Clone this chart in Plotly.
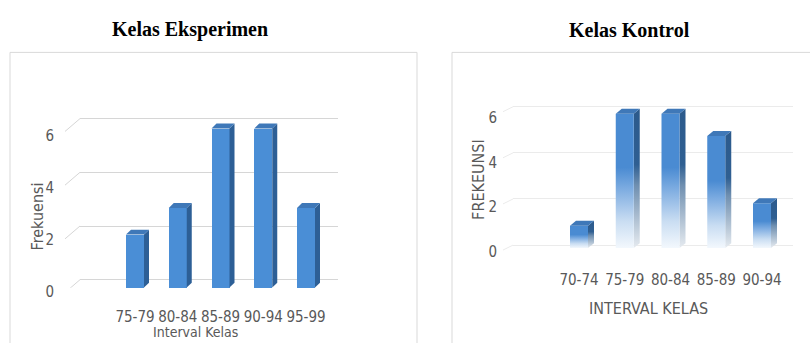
import plotly.graph_objects as go

# ---- data ----
eks_labels = ["75-79", "80-84", "85-89", "90-94", "95-99"]
eks_freq = [2, 3, 6, 6, 3]
kon_labels = ["70-74", "75-79", "80-84", "85-89", "90-94"]
kon_freq = [1, 6, 6, 5, 2]
y_ticks = [0, 2, 4, 6]

W, H = 810, 343
FAMILY = "DejaVu Sans Condensed, Open Sans, sans-serif"
TICK_FONT = dict(family=FAMILY, size=15, color="#595959")


def px_x(p):
    return p / W


def px_y(p):
    return 1 - p / H


def lin_axis(dom_px, val_a, px_a, val_b, px_b):
    """Return (r0, r1, px-per-unit) so that val_a sits at px_a and val_b at px_b."""
    d0, d1 = dom_px
    scale = (px_b - px_a) / (val_b - val_a)
    r0 = val_a + (d0 - px_a) / scale
    r1 = val_a + (d1 - px_a) / scale
    return r0, r1, scale


fig = go.Figure()

# ---------- layout geometry ----------
L_bx = (70, 340)
L_by = (300, 110)
Lx0, Lx1, Lsx = lin_axis(L_bx, 0, 135, 4, 306)
Ly0, Ly1, Lsy = lin_axis(L_by, 0, 291, 6, 130)
Lsy = -Lsy
R_bx = (515, 795)
R_by = (260, 100)
Rx0, Rx1, Rsx = lin_axis(R_bx, 0, 579, 4, 762)
Ry0, Ry1, Rsy = lin_axis(R_by, 0, 251, 6, 115)
Rsy = -Rsy

# value-label scales (front edge of the floor)
LL0, LL1, _ = lin_axis(L_by, 0, 295, 6, 137)
RL0, RL1, _ = lin_axis(R_by, 0, 255, 6, 119)


def bar_faces(values, xa, ya, sx, sy, w_px, dx_px, dy_px, gradient):
    w = w_px / sx
    dx = dx_px / sx
    dy = dy_px / sy
    for i, v in enumerate(values):
        xl, xr = i - w / 2, i + w / 2
        side = dict(x=[xr, xr + dx, xr + dx, xr, xr], y=[0, dy, v + dy, v, 0])
        front = dict(x=[xl, xr, xr, xl, xl], y=[0, 0, v, v, 0])
        top = dict(x=[xl, xr, xr + dx, xl + dx, xl], y=[v, v, v + dy, v + dy, v])
        if gradient:
            fig.add_trace(go.Scatter(
                **side, fill="toself", mode="lines", line=dict(width=0),
                fillgradient=dict(type="vertical", colorscale=[
                    [0, "#e6ebf0"], [0.45, "#6f8fb0"], [0.6, "#2f5f92"], [1, "#2c5a8c"]]),
                xaxis=xa, yaxis=ya, hoverinfo="skip", showlegend=False))
            fig.add_trace(go.Scatter(
                **front, fill="toself", mode="lines", line=dict(width=0),
                fillgradient=dict(type="vertical", colorscale=[
                    [0, "#f3f8fd"], [0.2, "#c9ddf2"], [0.45, "#7aaae0"],
                    [0.6, "#4a8bd2"], [1, "#4a8bd2"]]),
                xaxis=xa, yaxis=ya, hoverinfo="skip", showlegend=False))
        else:
            fig.add_trace(go.Scatter(
                **side, fill="toself", mode="lines", line=dict(width=0),
                fillcolor="#2d5f96", xaxis=xa, yaxis=ya,
                hoverinfo="skip", showlegend=False))
        fig.add_trace(go.Scatter(
            **top, fill="toself", mode="lines", line=dict(width=0),
            fillcolor="#3f78b8", xaxis=xa, yaxis=ya,
            hoverinfo="skip", showlegend=False))
    if not gradient:
        fig.add_trace(go.Bar(
            x=list(range(len(values))), y=values, width=w,
            marker=dict(color="#4a8ed6", line=dict(width=0)),
            xaxis=xa, yaxis=ya, hoverinfo="skip", showlegend=False))


bar_faces(eks_freq, "x3", "y3", Lsx, Lsy, 18, 5, 5, False)
bar_faces(kon_freq, "x4", "y4", Rsx, Rsy, 18, 6, 5, True)

# empty traces that carry the value-label axes
for xa, ya in (("x5", "y5"), ("x6", "y6")):
    fig.add_trace(go.Scatter(x=[None], y=[None], xaxis=xa, yaxis=ya,
                             mode="markers", hoverinfo="skip", showlegend=False))

LG_sy = 27.17
RG_sy = 23.33
hidden_x = dict(showticklabels=False, showgrid=False, zeroline=False, range=[0, 1])
fig.update_layout(
    # back-wall gridlines, drawn first so they sit behind the bars
    xaxis=dict(domain=[px_x(80), px_x(338)], **hidden_x),
    yaxis=dict(domain=[px_y(283 + 0.3 * LG_sy), px_y(120 - 0.3 * LG_sy)],
               range=[-0.3, 6.3], tickvals=y_ticks, showticklabels=False,
               showgrid=True, gridcolor="#d6d6d6", gridwidth=1, zeroline=False,
               anchor="x"),
    xaxis2=dict(domain=[px_x(513), px_x(793)], anchor="y2", **hidden_x),
    yaxis2=dict(domain=[px_y(248 + 0.3 * RG_sy), px_y(108 - 0.3 * RG_sy)],
                range=[-0.3, 6.3], tickvals=y_ticks, showticklabels=False,
                showgrid=True, gridcolor="#ebebeb", gridwidth=1, zeroline=False,
                anchor="x2"),
    # bars and category labels
    xaxis3=dict(domain=[px_x(L_bx[0]), px_x(L_bx[1])], range=[Lx0, Lx1],
                tickvals=list(range(len(eks_labels))), ticktext=eks_labels,
                tickfont=TICK_FONT, tickangle=0, showgrid=False, zeroline=False,
                ticks="", showline=False, anchor="y3", ticklabelstandoff=9),
    yaxis3=dict(domain=[px_y(L_by[0]), px_y(L_by[1])], range=[Ly0, Ly1],
                showticklabels=False, showgrid=False, zeroline=False, anchor="x3"),
    xaxis4=dict(domain=[px_x(R_bx[0]), px_x(R_bx[1])], range=[Rx0, Rx1],
                tickvals=list(range(len(kon_labels))), ticktext=kon_labels,
                tickfont=TICK_FONT, tickangle=0, showgrid=False, zeroline=False,
                ticks="", showline=False, anchor="y4", ticklabelstandoff=12),
    yaxis4=dict(domain=[px_y(R_by[0]), px_y(R_by[1])], range=[Ry0, Ry1],
                showticklabels=False, showgrid=False, zeroline=False, anchor="x4"),
    # value labels
    xaxis5=dict(domain=[px_x(L_bx[0]), px_x(L_bx[1])], anchor="y5", **hidden_x),
    yaxis5=dict(domain=[px_y(L_by[0]), px_y(L_by[1])], range=[LL0, LL1],
                tickvals=y_ticks, tickfont=TICK_FONT, showgrid=False,
                zeroline=False, ticks="", anchor="x5", ticklabelstandoff=15),
    xaxis6=dict(domain=[px_x(R_bx[0]), px_x(R_bx[1])], anchor="y6", **hidden_x),
    yaxis6=dict(domain=[px_y(R_by[0]), px_y(R_by[1])], range=[RL0, RL1],
                tickvals=y_ticks, tickfont=TICK_FONT, showgrid=False,
                zeroline=False, ticks="", anchor="x6", ticklabelstandoff=17),
)

# floor perspective stubs at the start of each gridline
shapes = []
for v in y_ticks:
    shapes.append(dict(type="line", xref="x domain", yref="y",
                       x0=(65 - 80) / 258, y0=v - 13 / LG_sy, x1=0, y1=v,
                       line=dict(color="#d6d6d6", width=1)))
    shapes.append(dict(type="line", xref="x2 domain", yref="y2",
                       x0=(503 - 513) / 280, y0=v - 5 / RG_sy, x1=0, y1=v,
                       line=dict(color="#ebebeb", width=1)))

# chart-area borders
shapes.append(dict(type="rect", xref="paper", yref="paper",
                   x0=px_x(10), y0=px_y(360), x1=px_x(417), y1=px_y(53),
                   line=dict(color="#d9d9d9", width=1), layer="below"))
shapes.append(dict(type="rect", xref="paper", yref="paper",
                   x0=px_x(452), y0=px_y(360), x1=px_x(830), y1=px_y(53),
                   line=dict(color="#d9d9d9", width=1), layer="below"))

TITLE_FONT = dict(family="Liberation Serif, Times New Roman, serif", size=20, color="#000000")
AX_FONT = dict(family=FAMILY, size=16, color="#595959")

annotations = [
    dict(text="<b>Kelas Eksperimen</b>", x=px_x(190), y=px_y(30), font=TITLE_FONT),
    dict(text="<b>Kelas Kontrol</b>", x=px_x(629.5), y=px_y(30), font=TITLE_FONT),
    dict(text="Frekuensi", x=px_x(37), y=px_y(219), textangle=-90, font=AX_FONT),
    dict(text="FREKEUNSI", x=px_x(479), y=px_y(182), textangle=-90, font=AX_FONT),
    dict(text="Interval Kelas", x=px_x(195), y=px_y(346), yanchor="bottom",
         font=dict(family=FAMILY, size=14, color="#595959")),
    dict(text="INTERVAL KELAS", x=px_x(648), y=px_y(312), font=AX_FONT),
]
for a in annotations:
    a.setdefault("yanchor", "middle")
    a.update(xref="paper", yref="paper", showarrow=False, xanchor="center")

fig.update_layout(
    width=W, height=H, margin=dict(l=0, r=0, t=0, b=0),
    paper_bgcolor="white", plot_bgcolor="rgba(0,0,0,0)",
    shapes=shapes, annotations=annotations, bargap=0, showlegend=False,
)

fig.write_html("out.html")
